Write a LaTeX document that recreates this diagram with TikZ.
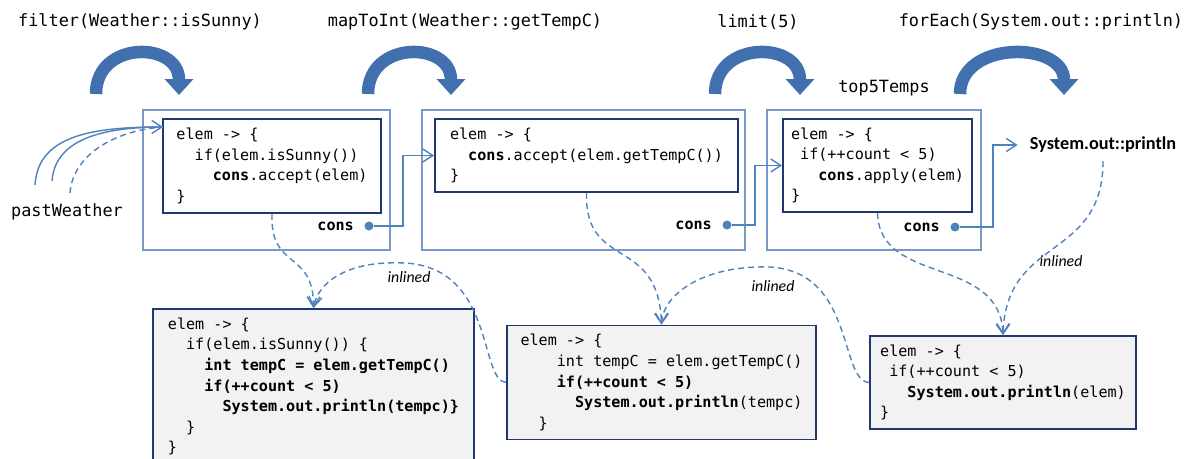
\documentclass[tikz,border=0pt]{standalone}
\usepackage{fontspec}
\setmonofont{DejaVu Sans Mono}
\newfontfamily\calfont{Carlito}
\usetikzlibrary{arrows.meta}

\definecolor{boxblue}{RGB}{120,152,200}
\definecolor{navy}{RGB}{31,56,110}
\definecolor{linkblue}{RGB}{79,129,189}
\definecolor{arcblue}{RGB}{66,112,175}
\definecolor{codegray}{RGB}{242,242,242}

\newcommand{\codefont}{\ttfamily\fontsize{8.6}{11.7}\selectfont}
\newcommand{\ind}[1]{\hspace*{#1\fontcharwd\font`x}}

\tikzset{
    stage/.style={draw=boxblue, line width=0.8pt, minimum height=2.8cm},
    lambda/.style={draw=navy, line width=1.1pt, fill=white, align=left,
        font=\codefont, inner sep=0pt},
    fused/.style={lambda, fill=codegray},
    oplabel/.style={font=\ttfamily\fontsize{9.6}{11}\selectfont},
    consdot/.style={circle, fill=linkblue, inner sep=0pt, minimum size=0.18cm},
    conslabel/.style={font=\codefont\bfseries, anchor=east},
    note/.style={font=\calfont\itshape\fontsize{9}{10}\selectfont},
    link/.style={draw=linkblue, line width=0.8pt,
        -{Straight Barb[length=0.2cm,width=0.26cm]}},
    inline/.style={link, dash pattern=on 3.4pt off 2.3pt},
    bigarc/.style={draw=arcblue, line width=0.25cm,
        -{Triangle[width=0.56cm,length=0.32cm]}}
}

\begin{document}
\begin{tikzpicture}[x=0.02cm, y=-0.02cm]
    \useasboundingbox (0,0) rectangle (1197,459);

    % operations
    \node[oplabel] (op1) at (140,22) {filter(Weather::isSunny)};
    \node[oplabel] (op2) at (465,22) {mapToInt(Weather::getTempC)};
    \node[oplabel] (op3) at (758,22) {limit(5)};
    \node[oplabel] (op4) at (1041,22) {forEach(System.out::println)};
    \foreach \s/\e [count=\i] in {96/179, 368/451, 715/800, 960/1064} {
        \coordinate (arcfrom\i) at (\s,94);
        \coordinate (arcto\i) at (\e,95);
        \draw[bigarc] (arcfrom\i) .. controls +(0,-54) and +(0,-54) .. (arcto\i);
    }
    \node[oplabel] (src) at (67,212) {pastWeather};
    \node[oplabel] (res) at (884,88) {top5Temps};

    % pipeline stages
    \node[stage, minimum width=4.94cm] (stage1) at (266.5,180) {};
    \node[stage, minimum width=6.46cm] (stage2) at (583.5,180) {};
    \node[stage, minimum width=4.28cm] (stage3) at (874,180) {};
    \node[lambda, minimum width=4.36cm, minimum height=1.88cm] (inner1)
        at (272,166) {elem -> \{\\ \ind{2}if(elem.isSunny())\\
        \ind{4}\textbf{cons}.accept(elem)\\ \}};
    \node[lambda, minimum width=6.06cm, minimum height=1.46cm] (inner2)
        at (586.5,155.5) {elem -> \{\\ \ind{2}\textbf{cons}.accept(elem.getTempC())\\ \}};
    \node[lambda, minimum width=3.78cm, minimum height=1.86cm] (inner3)
        at (877.5,165.5) {elem -> \{\\ \ind{1}if(++count < 5)\\
        \ind{3}\textbf{cons}.apply(elem)\\ \}};
    \node[font=\calfont\bfseries\fontsize{10.4}{12}\selectfont, inner xsep=0.24cm,
        inner ysep=0.16cm] (prt) at (1103,145) {System.out::println};

    % downstream consumers
    \node[consdot] (dot1) at (369,226) {};
    \node[consdot] (dot2) at (727,225) {};
    \node[consdot] (dot3) at (955,227) {};
    \node[conslabel] (cons1) at (360,226) {cons};
    \node[conslabel] (cons2) at (718,225) {cons};
    \node[conslabel] (cons3) at (946,227) {cons};
    \draw[link] (dot1) -- ++(34,0) |- (inner2.west);
    \draw[link] (dot2) -- ++(28,0) |- (inner3.west);
    \draw[link] (dot3) -- ++(38,0) |- (prt.west);

    % source
    \coordinate (pw1) at (35,185);
    \coordinate (pw2) at (52,181);
    \coordinate (pw3) at (70,193);
    \coordinate (feed) at (163,127);
    \draw[link] (pw1) .. controls +(3,-48) and +(-75,0) .. (feed);
    \draw[link, -] (pw2) .. controls +(3,-42) and +(-60,0) .. (feed);
    \draw[inline, -] (pw3) .. controls +(3,-40) and +(-45,3) .. (feed);

    % fused lambdas
    \node[fused, minimum width=6.42cm, minimum height=3.1cm] (b1) at (313.5,386.5)
        {elem -> \{\\ \ind{2}if(elem.isSunny()) \{\\
        \ind{4}\textbf{int tempC = elem.getTempC()}\\
        \ind{4}\textbf{if(++count < 5)}\\
        \ind{6}\textbf{System.out.println(tempc)\}}\\ \ind{2}\}\\ \}};
    \node[fused, minimum width=6.18cm, minimum height=2.28cm] (b2) at (661.5,382.5)
        {elem -> \{\\ \ind{4}int tempC = elem.getTempC()\\
        \ind{4}\textbf{if(++count < 5)}\\
        \ind{6}\textbf{System.out.println}(tempc)\\ \ind{2}\}};
    \node[fused, minimum width=5.32cm, minimum height=1.86cm] (b3) at (1003,382.5)
        {elem -> \{\\ \ind{1}if(++count < 5)\\
        \ind{3}\textbf{System.out.println}(elem)\\ \}};

    % inlining
    \draw[inline] (inner1.south) .. controls +(-2,57) and +(0,-59) .. (b1.north);
    \draw[inline] (b2.west) .. controls +(-27,-2) and +(90,5) .. (405,263)
        .. controls +(-60,-3) and +(4,-24) .. (b1.north);
    \node[note] (inl1) at (409,277) {inlined};
    \draw[inline] (inner2.south) .. controls +(-2,78) and +(-3,-90) .. (b2.north);
    \draw[inline] (b3.west) .. controls +(-30,-2) and +(85,5) .. (770,267)
        .. controls +(-70,-2) and +(1,-28) .. (b2.north);
    \node[note] (inl2) at (773,286) {inlined};
    \draw[inline] (inner3.south) .. controls +(2,73) and +(-3,-80) .. (b3.north);
    \draw[inline] (prt.south) .. controls +(0,100) and +(3,-100) .. (b3.north);
    \node[note] (inl3) at (1061,261) {inlined};
\end{tikzpicture}
\end{document}
